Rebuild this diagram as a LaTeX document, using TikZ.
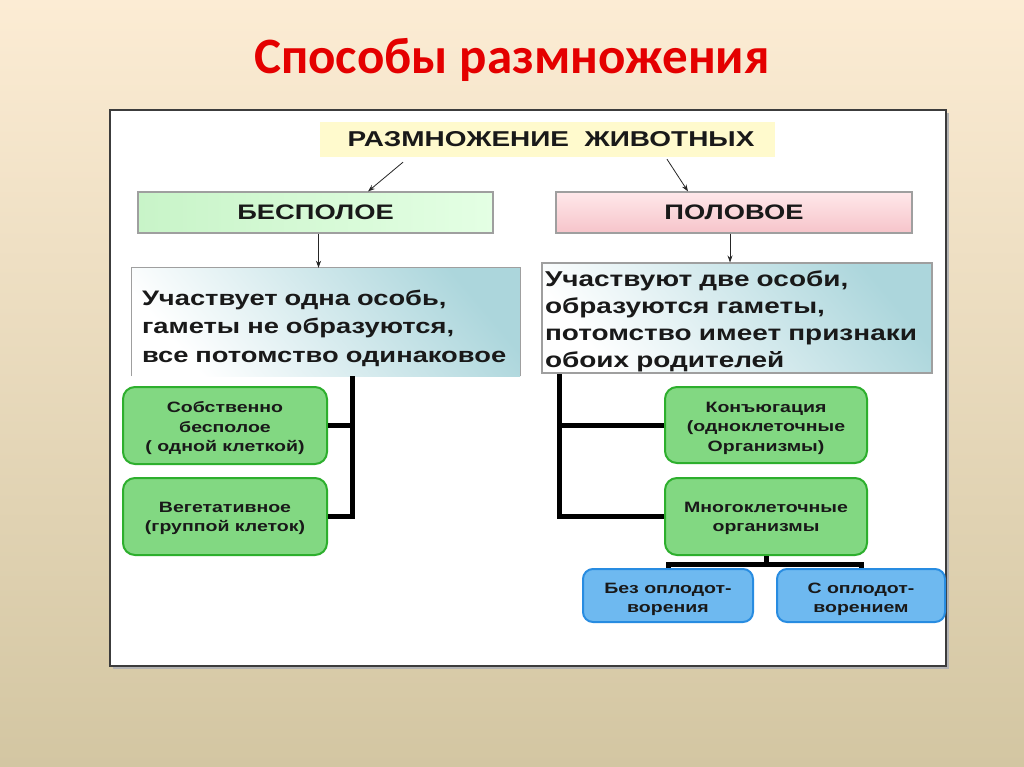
\documentclass[tikz,border=0pt]{standalone}
\usepackage{fontspec}
\setmainfont{Liberation Sans}
\newfontfamily\wsans[FakeStretch=1.3]{Liberation Sans}
\newfontfamily\titlefont{Carlito}
\usetikzlibrary{arrows.meta,calc}
\newcommand\lowerby[2]{\raisebox{-#1}[\height][\depth]{#2}}
\definecolor{bgtop}{RGB}{252,236,212}
\definecolor{bgbot}{RGB}{211,198,162}
\definecolor{titlered}{RGB}{228,0,0}
\definecolor{headyel}{RGB}{255,250,205}
\definecolor{besA}{RGB}{200,244,200}
\definecolor{besB}{RGB}{228,255,228}
\definecolor{polA}{RGB}{255,232,234}
\definecolor{polB}{RGB}{246,196,202}
\definecolor{descteal}{RGB}{172,214,220}
\definecolor{boxgreen}{RGB}{130,216,130}
\definecolor{boxgreenline}{RGB}{45,175,45}
\definecolor{boxblue}{RGB}{110,185,240}
\definecolor{boxblueline}{RGB}{40,140,225}
\definecolor{txt}{RGB}{25,25,25}
\definecolor{panelline}{RGB}{60,60,60}
\tikzset{
  hdr/.style={font=\wsans\bfseries\fontsize{21}{25}\selectfont, text=txt, inner sep=0pt},
  catbox/.style={hdr, draw=gray!75, line width=1.1pt, minimum height=41pt},
  desc/.style={font=\wsans\bfseries\fontsize{21}{28.5}\selectfont, align=left, text=txt,
    top color=descteal, bottom color=white, shading angle=-50, minimum height=108pt},
  gbox/.style={rounded corners=12pt, draw=boxgreenline, line width=2pt, fill=boxgreen,
    font=\wsans\bfseries\fontsize{15}{19.5}\selectfont, align=center, text=txt, inner sep=0pt},
  bbox/.style={rounded corners=10pt, draw=boxblueline, line width=2pt, fill=boxblue,
    font=\wsans\bfseries\fontsize{15}{19.5}\selectfont, align=center, text=txt, inner sep=0pt,
    minimum height=53pt},
  conn/.style={-{Stealth[length=7pt,width=5pt]}, line width=0.8pt, draw=black!85},
  bracket/.style={line width=5pt, draw=black},
}
\begin{document}
\begin{tikzpicture}[x=1pt,y=-1pt]
\useasboundingbox (0,0) rectangle (1024,767);
\shade[top color=bgtop, bottom color=bgbot] (0,0) rectangle (1024,767);
% title
\node[font=\titlefont\bfseries\fontsize{51}{56}\selectfont, text=titlered, anchor=base] (title) at (512,74) {Способы размножения};
% panel
\fill[black!30] (113,113) rectangle (949,669);
\draw[draw=panelline, line width=1.3pt, fill=white] (110,110) rectangle (946,666);
% heading
\node[hdr, fill=headyel, minimum width=455pt, minimum height=35pt, font=\wsans\bfseries\fontsize{21.5}{25}\selectfont] (top) at (547.5,139.5) {\hspace*{7pt}РАЗМНОЖЕНИЕ\ \ ЖИВОТНЫХ};
% categories
\node[catbox, left color=besA, right color=besB, minimum width=355pt] (bes) at (315.5,212.5) {БЕСПОЛОЕ};
\node[catbox, top color=polA, bottom color=polB, minimum width=356pt] (pol) at (734,212.5) {ПОЛОВОЕ};
% descriptions
\node[desc, text width=380pt, inner xsep=4pt, inner ysep=0pt] (ldesc) at (326,322)
  {\hspace*{6pt}\lowerby{6pt}{\parbox[b]{374pt}{Участвует одна особь,\\гаметы не образуются,\\все потомство одинаковое}}};
\draw[gray!75, line width=1.1pt] (ldesc.south west) -- (ldesc.north west) -- (ldesc.north east) -- (ldesc.south east);
\node[desc, draw=gray!75, line width=1.1pt, text width=384pt, inner xsep=3pt, inner ysep=0pt,
  font=\wsans\bfseries\fontsize{21.5}{27}\selectfont, minimum height=110pt] (rdesc) at (737,318)
  {\lowerby{3pt}{\parbox[b]{384pt}{Участвуют две особи,\\образуются гаметы,\\потомство имеет признаки\\обоих родителей}}};
% arrows
\draw[conn] ([xshift=-144.5pt,yshift=-5pt]top.south) -- ([xshift=52.5pt]bes.north);
\draw[conn] ([xshift=119.5pt,yshift=-2pt]top.south) -- ([xshift=-46pt]pol.north);
\draw[conn] ([xshift=3pt]bes.south) -- ([xshift=3pt]bes.south |- ldesc.north);
\draw[conn] ([xshift=-4pt]pol.south) -- ([xshift=-4pt]pol.south |- rdesc.north);
% green boxes
\node[gbox, minimum width=204pt, minimum height=77pt] (g1) at (225,425.5) {\lowerby{3pt}{\parbox[b]{200pt}{\centering Собственно\\бесполое\\( одной клеткой)}}};
\node[gbox, minimum width=204pt, minimum height=77pt] (g2) at (225,516.5) {\lowerby{2pt}{\parbox[b]{200pt}{\centering Вегетативное\\(группой клеток)}}};
\node[gbox, minimum width=202pt, minimum height=76pt] (g3) at (766,425) {\lowerby{3pt}{\parbox[b]{198pt}{\centering Конъюгация\\(одноклеточные\\Организмы)}}};
\node[gbox, minimum width=202pt, minimum height=77pt] (g4) at (766,516.5) {\lowerby{2pt}{\parbox[b]{198pt}{\centering Многоклеточные\\организмы}}};
% blue boxes
\node[bbox, minimum width=170pt] (b1) at (668,595.5) {\lowerby{4pt}{\parbox[b]{160pt}{\centering Без оплодот-\\ворения}}};
\node[bbox, minimum width=168pt] (b2) at (861,595.5) {\lowerby{4pt}{\parbox[b]{160pt}{\centering С оплодот-\\ворением}}};
% brackets
\coordinate (lx) at (352,376);
\coordinate (rx) at (559,374);
\coordinate (hb) at (766,564);
\draw[bracket] (lx) |- (g2.east);
\draw[bracket] (g1.east) -- (g1.east -| lx);
\draw[bracket] (rx) |- (g4.west);
\draw[bracket] (g3.west) -- (g3.west -| rx);
\draw[bracket] (g4.south) -- (hb);
\draw[bracket] (b1.north) |- (hb) -| (b2.north);
\end{tikzpicture}
\end{document}
